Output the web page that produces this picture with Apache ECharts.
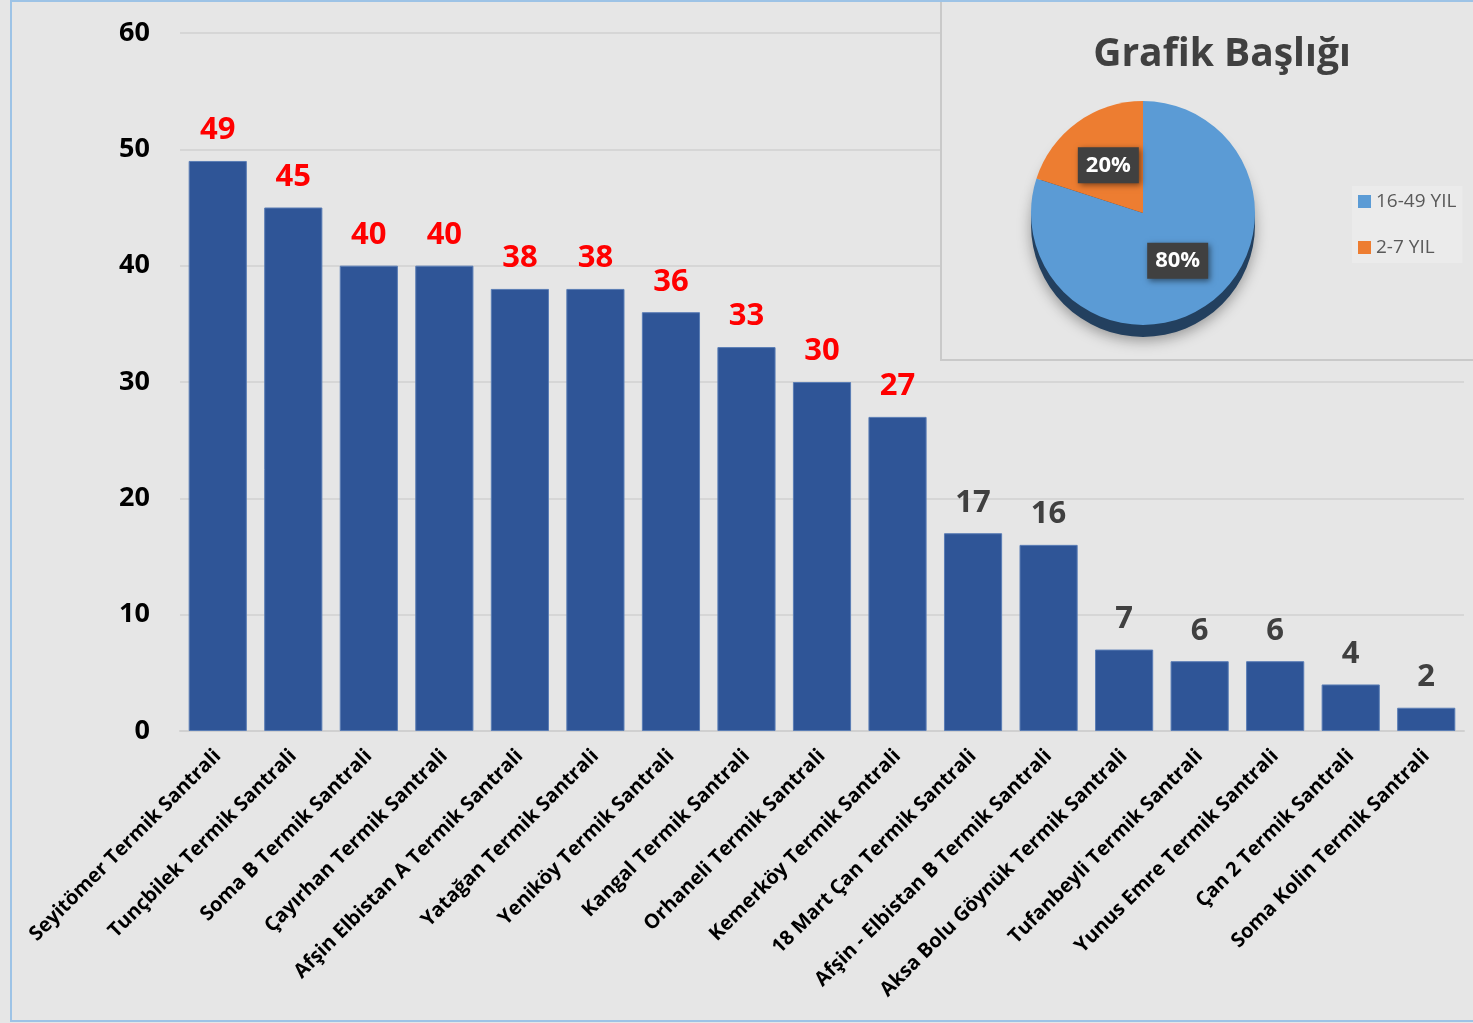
<!DOCTYPE html>
<html>
<head>
<meta charset="utf-8">
<script src="https://cdn.jsdelivr.net/npm/echarts@6/dist/echarts.min.js"></script>
<style>
  html, body { margin: 0; padding: 0; background: #e6e6e6; }
  #chart { width: 1473px; height: 1023px; }
</style>
</head>
<body>
<div id="chart"></div>
<script>
// santral isimleri
var categories = [
  'Seyitömer Termik Santrali', 'Tunçbilek Termik Santrali', 'Soma B Termik Santrali',
  'Çayırhan Termik Santrali', 'Afşin Elbistan A Termik Santrali', 'Yatağan Termik Santrali',
  'Yeniköy Termik Santrali', 'Kangal Termik Santrali', 'Orhaneli Termik Santrali',
  'Kemerköy Termik Santrali', '18 Mart Çan Termik Santrali', 'Afşin - Elbistan B Termik Santrali',
  'Aksa Bolu Göynük Termik Santrali', 'Tufanbeyli Termik Santrali', 'Yunus Emre Termik Santrali',
  'Çan 2 Termik Santrali', 'Soma Kolin Termik Santrali'
];
// yaşlar
var values = [49, 45, 40, 40, 38, 38, 36, 33, 30, 27, 17, 16, 7, 6, 6, 4, 2];
// pasta
var pieNames = ['16-49 YIL', '2-7 YIL'];
var pieValues = [80, 20];
var pieColors = ['#5b9bd5', '#ed7d31'];

var FONT = '"Open Sans", "Noto Sans", sans-serif';

var chart = echarts.init(document.getElementById('chart'));

var barData = values.map(function(v){
  return {
    value: v,
    label: { color: v >= 27 ? '#ff0000' : '#404040' }
  };
});

var pieData = pieNames.map(function(n, i){
  return { name: n, value: pieValues[i], itemStyle: { color: pieColors[i] } };
});
var pieSide = pieNames.map(function(n, i){
  return { name: n + ' ', value: pieValues[i], itemStyle: { color: '#23405f' } };
});

chart.setOption({
  backgroundColor: '#e6e6e6',
  animation: false,
  title: {
    text: 'Grafik Başlığı',
    left: 1217,
    top: 30,
    textAlign: 'center',
    z: 20,
    textStyle: { fontFamily: FONT, fontSize: 39, fontWeight: 'bold', color: '#404040' }
  },
  legend: {
    data: pieNames,
    orient: 'vertical',
    left: 1352,
    top: 186,
    z: 20,
    itemWidth: 13,
    itemHeight: 13,
    itemGap: 27,
    padding: [6, 6, 6, 6],
    backgroundColor: '#ebebeb',
    icon: 'rect',
    textStyle: { fontFamily: FONT, fontSize: 19, color: '#595959' }
  },
  graphic: [
    {
      type: 'rect', z: 5,
      shape: { x: 941, y: -2, width: 540, height: 362 },
      style: { fill: '#e6e6e6', stroke: '#c9c9c9', lineWidth: 2 }
    },
    {
      type: 'rect', z: 30, silent: true,
      shape: { x: 11, y: 1, width: 1480, height: 1020 },
      style: { fill: 'none', stroke: '#9dc3e6', lineWidth: 2 }
    }
  ],
  grid: { left: 180, right: 9, top: 33, bottom: 292, containLabel: false },
  xAxis: {
    type: 'category',
    data: categories,
    axisTick: { show: false },
    axisLine: { lineStyle: { color: '#d0d0d0', width: 2 } },
    axisLabel: {
      interval: 0,
      rotate: 45,
      margin: 22,
      fontFamily: FONT,
      fontSize: 20,
      fontWeight: 'bold',
      color: '#000'
    }
  },
  yAxis: {
    type: 'value',
    min: 0,
    max: 60,
    interval: 10,
    axisLine: { show: false },
    axisTick: { show: false },
    splitLine: { lineStyle: { color: '#d6d6d6', width: 2 } },
    axisLabel: {
      margin: 30,
      fontFamily: FONT,
      fontSize: 27,
      fontWeight: 'bold',
      color: '#000'
    }
  },
  series: [
    {
      type: 'bar',
      data: barData,
      barCategoryGap: '23%',
      itemStyle: { color: '#2f5597', borderColor: '#5a7db5', borderWidth: 1 },
      label: {
        show: true,
        position: 'top',
        distance: 15,
        fontFamily: FONT,
        fontSize: 31,
        fontWeight: 'bold'
      }
    },
    {
      type: 'pie',
      z: 8,
      silent: true,
      center: [1143, 225],
      radius: 112,
      data: pieSide,
      label: { show: false },
      labelLine: { show: false },
      itemStyle: { shadowBlur: 14, shadowColor: 'rgba(0,0,0,0.35)', shadowOffsetY: 4 }
    },
    {
      type: 'pie',
      z: 10,
      center: [1143, 213],
      radius: 112,
      data: pieData,
      label: {
        show: true,
        position: 'inside',
        formatter: '{d}%',
        fontFamily: FONT,
        fontSize: 22,
        fontWeight: 'bold',
        color: '#fff',
        backgroundColor: '#404040',
        padding: [8, 8, 6, 8],
        shadowBlur: 6,
        shadowColor: 'rgba(0,0,0,0.5)',
        shadowOffsetX: 2,
        shadowOffsetY: 2
      },
      labelLine: { show: false }
    }
  ]
});
window.onresize = chart.resize;
</script>
</body>
</html>
